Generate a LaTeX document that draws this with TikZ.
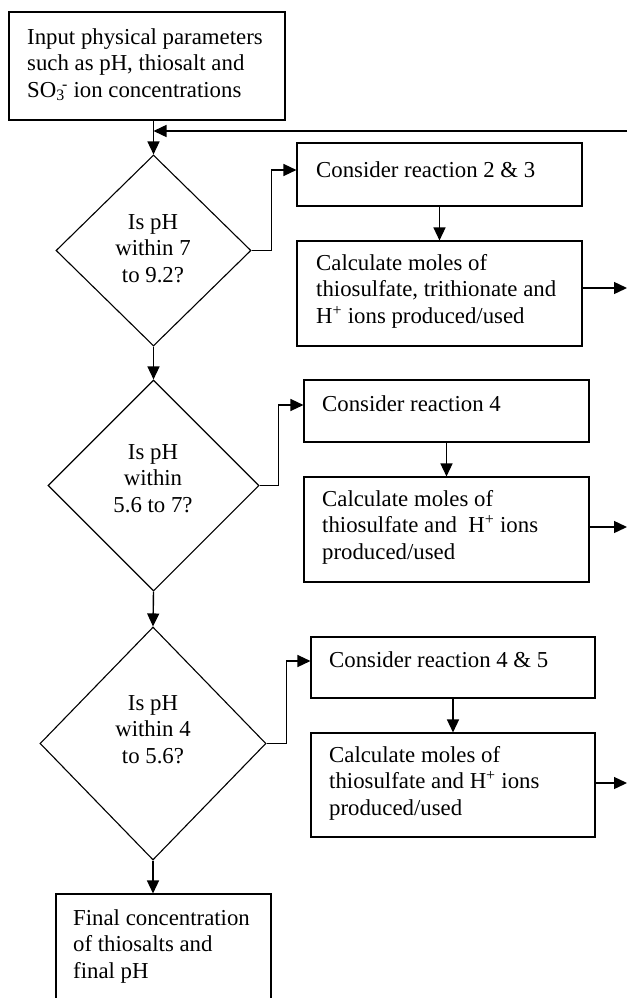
\documentclass[tikz,border=0pt]{standalone}
\usepackage{fontspec}
\setmainfont{Liberation Serif}
\usetikzlibrary{arrows.meta,shapes.geometric}
\begin{document}
\begin{tikzpicture}[x=1pt,y=-1pt,
  box/.style={draw, line width=1.1pt, rectangle, inner sep=0pt},
  dia/.style={draw, line width=1.1pt, diamond, inner sep=0pt, aspect=1},
  txt/.style={anchor=base west, align=left, inner sep=0pt, font=\fontsize{22.8}{26.5}\selectfont},
  ctxt/.style={anchor=base, align=center, inner sep=0pt, font=\fontsize{22.8}{26.5}\selectfont},
  arr/.style={line width=1.4pt, -{Triangle[length=13pt,width=12pt]}}]
\useasboundingbox (0,0) rectangle (627,998);
\fill[white] (0,0) rectangle (627,998);

% boxes
\node[box, minimum width=276pt, minimum height=108pt] (inp) at (147,66) {};
\node[dia, minimum width=195pt, minimum height=191pt] (d1) at (153.5,250.5) {};
\node[dia, minimum width=211pt, minimum height=211pt] (d2) at (153.5,485.5) {};
\node[dia, minimum width=226pt, minimum height=233pt] (d3) at (153,743.5) {};
\node[box, minimum width=285pt, minimum height=63pt] (c1) at (439.5,174.5) {};
\node[box, minimum width=285pt, minimum height=105pt] (k1) at (439.5,293.5) {};
\node[box, minimum width=285pt, minimum height=62pt] (c2) at (446.5,411) {};
\node[box, minimum width=285pt, minimum height=105pt] (k2) at (446.5,529.5) {};
\node[box, minimum width=284pt, minimum height=61pt] (c3) at (453,667.5) {};
\node[box, minimum width=284pt, minimum height=104pt] (k3) at (453,785) {};
\node[box, minimum width=215pt, minimum height=116pt] (fin) at (163.5,952) {};

% texts (base anchor = baseline of the last line)
\node[txt] (tinp) at (27,97) {Input physical parameters\\such as pH, thiosalt and\\SO\textsubscript{3}\hspace{-0.12em}\textsuperscript{-} ion concentrations};
\node[ctxt] (td1) at (153,282) {Is pH\\within 7\\to 9.2?};
\node[ctxt] (td2) at (153,512) {Is pH\\within\\5.6 to 7?};
\node[ctxt] (td3) at (153,763) {Is pH\\within 4\\to 5.6?};
\node[txt] (tc1) at (316,177) {Consider reaction 2 \& 3};
\node[txt] (tk1) at (316,323) {Calculate moles of\\thiosulfate, trithionate and\\H\textsuperscript{+} ions produced/used};
\node[txt] (tc2) at (322,411) {Consider reaction 4};
\node[txt] (tk2) at (322,559) {Calculate moles of\\thiosulfate and~ H\textsuperscript{+} ions\\produced/used};
\node[txt] (tc3) at (329,667) {Consider reaction 4 \& 5};
\node[txt] (tk3) at (329,815) {Calculate moles of\\thiosulfate and H\textsuperscript{+} ions\\produced/used};
\node[txt] (tfin) at (73,978) {Final concentration\\of thiosalts and\\final pH};

% free ends
\coordinate (fb) at (627,131);
\coordinate (o1) at (627,288);
\coordinate (o2) at (627,527);
\coordinate (o3) at (627,783);

% connectors
\draw[arr] (d1.north |- inp.south) -- (d1.north);
\draw[arr] (fb) -- (d1.north |- fb);
\draw[arr] (d1.east) -- ++(20,0) |- ([yshift=4.5pt]c1.west);
\draw[arr] (c1.south) -- (k1.north);
\draw[arr] (k1.east |- o1) -- (o1);
\draw[arr] (d1.south) -- (d2.north);
\draw[arr] (d2.east) -- ++(19,0) |- ([yshift=6pt]c2.west);
\draw[arr] (c2.south) -- (k2.north);
\draw[arr] (k2.east |- o2) -- (o2);
\draw[arr] (d2.south) -- (d3.north);
\draw[arr] (d3.east) -- ++(20,0) |- ([yshift=6.5pt]c3.west);
\draw[arr] (c3.south) -- (k3.north);
\draw[arr] (k3.east |- o3) -- (o3);
\draw[arr] (d3.south) -- (d3.south |- fin.north);
\end{tikzpicture}
\end{document}
